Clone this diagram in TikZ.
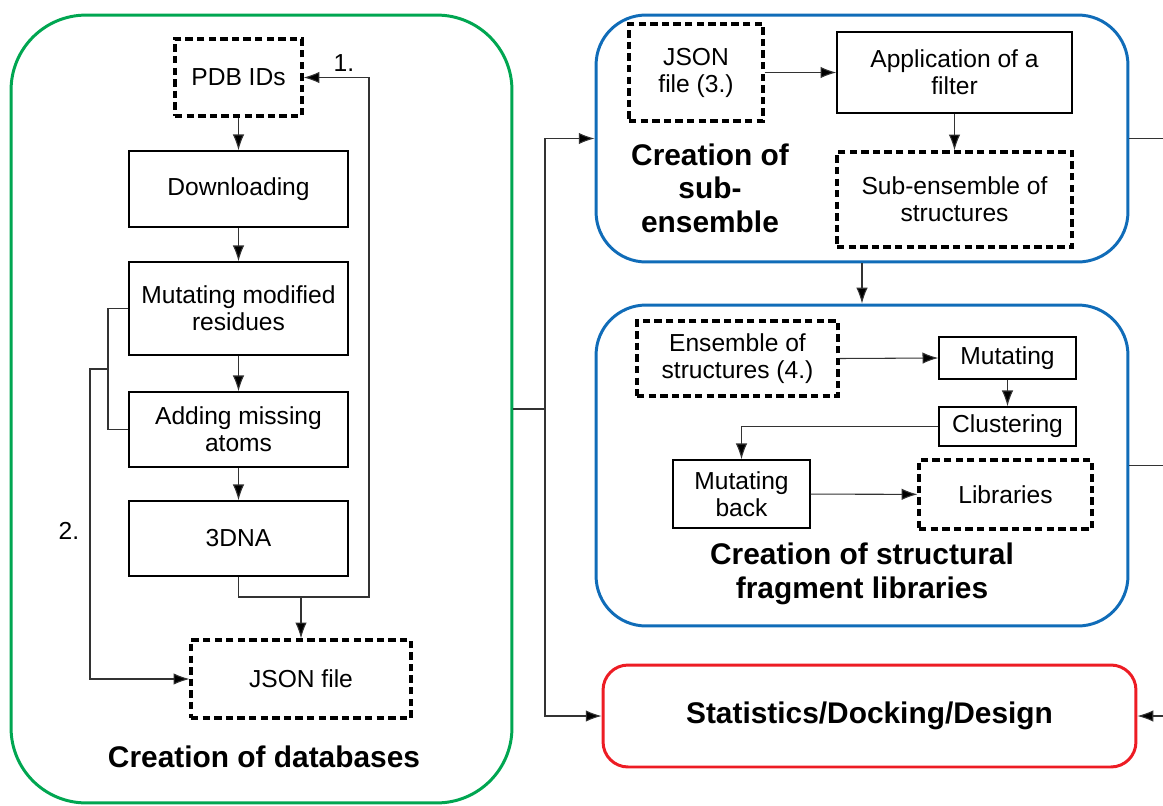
\documentclass[tikz,border=0pt]{standalone}
\usepackage{fontspec}
\setmainfont{Liberation Sans}
\usetikzlibrary{arrows.meta}

\begin{document}
\begin{tikzpicture}[x=0.02cm,y=-0.02cm,
		txt/.style={font=\fontsize{14}{15.4}\selectfont,align=center},
		ttl/.style={font=\fontsize{17}{19}\selectfont\bfseries,align=center},
		box/.style={txt,draw,line width=0.8pt,inner sep=0pt},
		dbox/.style={txt,draw,line width=1.8pt,dash pattern=on 4.2pt off 2.4pt,inner sep=0pt},
		grp/.style={draw,line width=1.7pt,minimum width=10.64cm},
		con/.style={draw=black!80,line width=0.6pt},
		arr/.style={con,-{Latex[length=9pt,width=6.5pt,fill=black]}}]
			\useasboundingbox (0,0) rectangle (1163,805);
			\node[grp,draw={rgb,255:red,0;green,166;blue,81},rounded corners=1.5cm,minimum width=10.02cm,minimum height=15.76cm] (db) at (261.5,409) {};
			\node[grp,draw={rgb,255:red,16;green,108;blue,184},rounded corners=1cm,minimum height=4.94cm] (sub) at (862,138.5) {};
			\node[grp,draw={rgb,255:red,16;green,108;blue,184},rounded corners=1cm,minimum height=6.42cm] (frag) at (862,465.5) {};
			\node[grp,draw={rgb,255:red,237;green,28;blue,36},rounded corners=0.5cm,minimum width=10.66cm,minimum height=2.04cm,ttl] (stat) at (869.5,716) {Statistics/Docking/Design};

			\node[dbox,minimum width=2.54cm,minimum height=1.54cm] (pdb) at (238.5,77.5) {PDB IDs};
			\node[box,minimum width=4.38cm,minimum height=1.52cm] (dl) at (238.5,189) {Downloading};
			\node[box,minimum width=4.38cm,minimum height=1.86cm] (mm) at (238.5,308.5) {Mutating modified\\residues};
			\node[box,minimum width=4.38cm,minimum height=1.5cm] (am) at (238.5,429.5) {Adding missing\\atoms};
			\node[box,minimum width=4.38cm,minimum height=1.5cm] (dna) at (238.5,538.5) {3DNA};
			\node[dbox,minimum width=4.4cm,minimum height=1.56cm] (json) at (301,679) {JSON file};
			\node[ttl] (t1) at (264,757) {Creation of databases};
			\node[txt] (n1) at (344,63) {1.};
			\node[txt] (n2) at (69,531) {2.};

			\node[dbox,minimum width=2.68cm,minimum height=1.94cm] (js3) at (696,72.5) {JSON\\file (3.)};
			\node[box,minimum width=4.7cm,minimum height=1.62cm] (app) at (954.5,72.5) {Application of a\\filter};
			\node[dbox,minimum width=4.7cm,minimum height=1.9cm] (sens) at (954.5,199.5) {Sub-ensemble of\\structures};
			\node[ttl] (t2) at (710,188) {Creation of\\sub-\\ensemble};

			\node[dbox,minimum width=4.02cm,minimum height=1.5cm] (ens) at (737.5,358.5) {Ensemble of\\structures (4.)};
			\node[box,minimum width=2.74cm,minimum height=0.84cm] (mu) at (1007.5,358) {Mutating};
			\node[box,minimum width=2.74cm,minimum height=0.78cm] (cl) at (1007.5,426.5) {Clustering};
			\node[box,minimum width=2.74cm,minimum height=1.36cm] (mb) at (741.5,494) {Mutating\\back};
			\node[dbox,minimum width=3.46cm,minimum height=1.38cm] (lib) at (1005.5,494.5) {Libraries};
			\node[ttl] (t3) at (862,574) {Creation of structural\\fragment libraries};

			\coordinate (j) at (301,597);
			\coordinate (r) at (369,597);
			\coordinate (l1) at (108,369);
			\coordinate (l2) at (90,369);
			\coordinate (sp) at (545,409);
			\coordinate (e1) at (1163,138.5);
			\coordinate (e2) at (1163,465.5);
			\coordinate (e3) at (1163,716);

			\draw[arr] (pdb) -- (dl);
			\draw[arr] (dl) -- (mm);
			\draw[arr] (mm) -- (am);
			\draw[arr] (am) -- (dna);
			\draw[arr] (j) -- (json.north);
			\draw[arr] (dna.south) |- (r) |- (pdb.east);
			\draw[con] (mm.west) -| (l1) |- (am.west);
			\draw[arr] (l1) -- (l2) |- (json.west);
			\draw[arr] (js3) -- (app);
			\draw[arr] (app) -- (sens);
			\draw[arr] (ens.east) -- (mu.west);
			\draw[arr] (mu) -- (cl);
			\draw[arr] (cl.west) -| (mb.north);
			\draw[arr] (mb) -- (lib);
			\draw[con] (db.east) -- (sp);
			\draw[arr] (sp) |- (sub.west);
			\draw[arr] (sp) |- (stat.west);
			\draw[arr] (sub) -- (frag);
			\draw[con] (sub.east) -- (e1);
			\draw[con] (frag.east) -- (e2);
			\draw[arr] (e3) -- (stat.east);
		\end{tikzpicture}
\end{document}
